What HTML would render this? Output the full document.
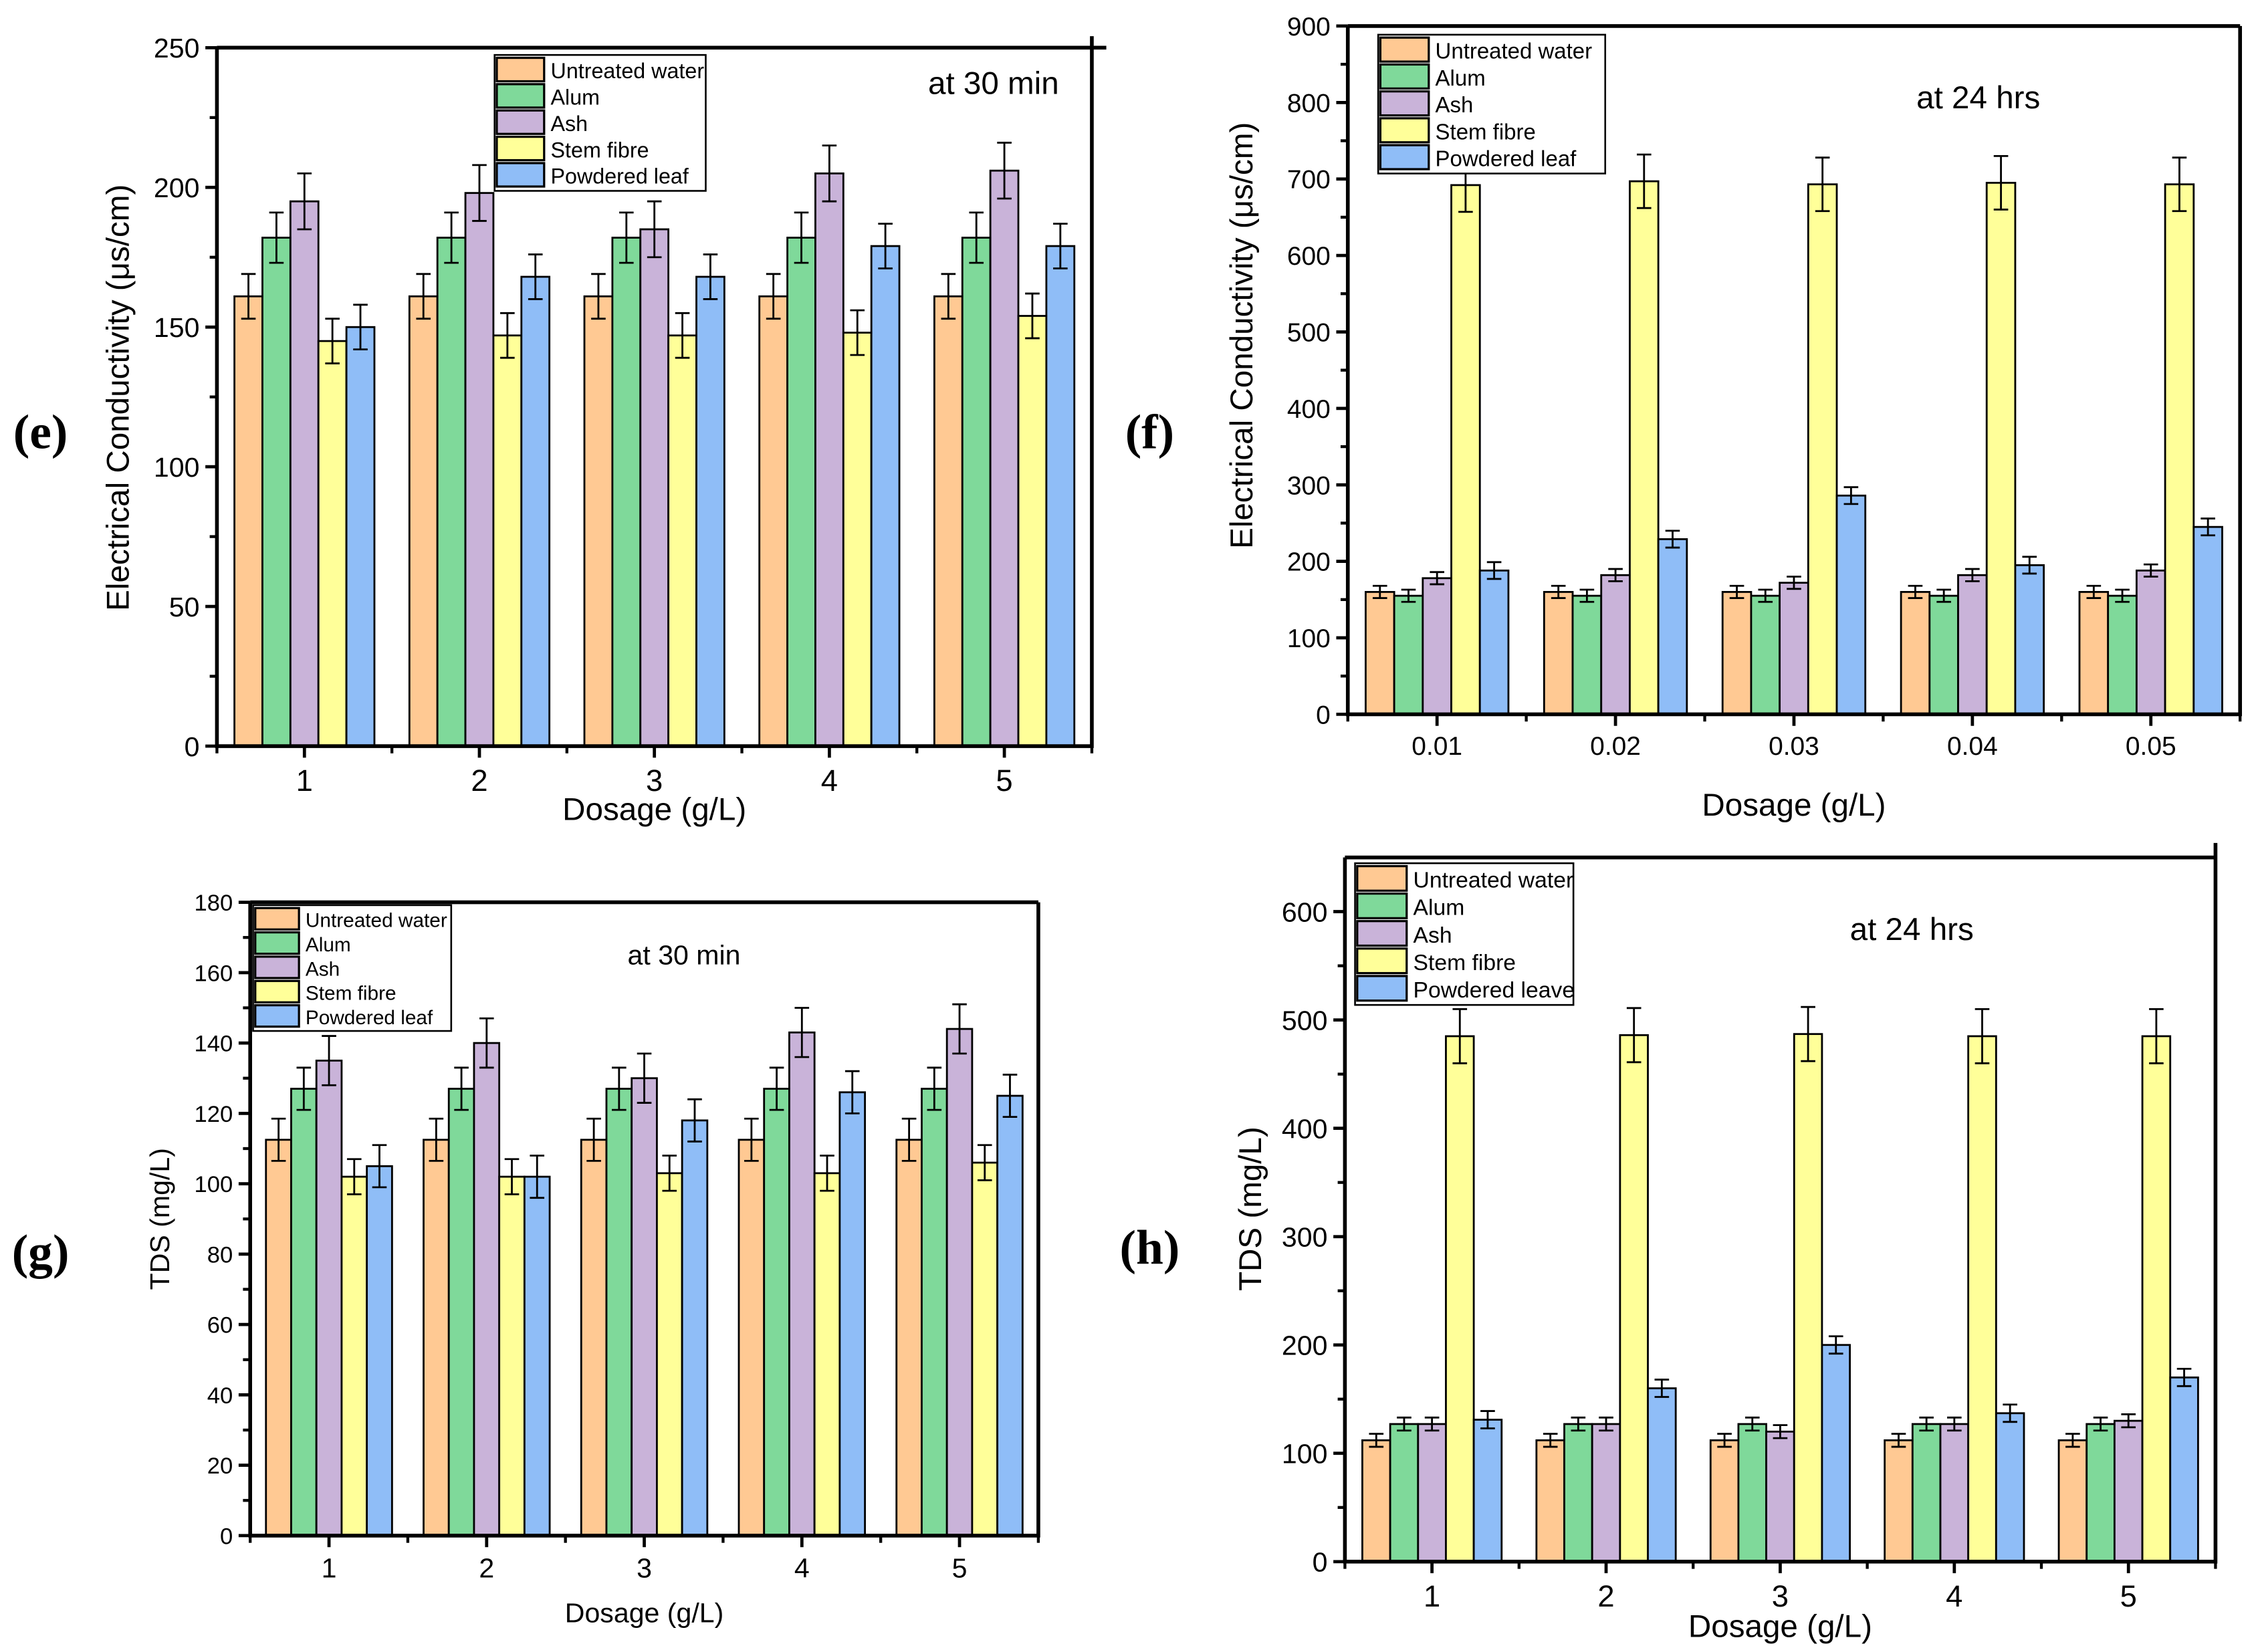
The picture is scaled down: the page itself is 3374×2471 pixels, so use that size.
<!DOCTYPE html>
<html><head><meta charset="utf-8"><style>
html,body{margin:0;padding:0;background:#fff}
svg{display:block;font-family:"Liberation Sans",sans-serif}
</style></head><body>
<svg id="fig" width="3374" height="2471" viewBox="0 0 1560 1142.5" xmlns="http://www.w3.org/2000/svg">
<rect width="1560" height="1142.5" fill="#fff"/>
</svg>
<script>
// Panel e: EC at 30 min
const eCats = ['1','2','3','4','5'];
const eUntreated = [161,161,161,161,161];
const eAlum = [182,182,182,182,182];
const eAsh = [195,198,185,205,206];
const eStem = [145,147,147,148,154];
const eLeaf = [150,168,168,179,179];
const eErr = [8,9,10,8,8];
const eTicks = [0,50,100,150,200,250];
// Panel f: EC at 24 hrs
const fCats = ['0.01','0.02','0.03','0.04','0.05'];
const fUntreated = [160,160,160,160,160];
const fAlum = [155,155,155,155,155];
const fAsh = [178,182,172,182,188];
const fStem = [692,697,693,695,693];
const fLeaf = [188,229,286,195,245];
const fErr = [8,8,8,35,11];
const fTicks = [0,100,200,300,400,500,600,700,800,900];
// Panel g: TDS at 30 min
const gCats = ['1','2','3','4','5'];
const gUntreated = [112.5,112.5,112.5,112.5,112.5];
const gAlum = [127,127,127,127,127];
const gAsh = [135,140,130,143,144];
const gStem = [102,102,103,103,106];
const gLeaf = [105,102,118,126,125];
const gErr = [6,6,7,5,6];
const gTicks = [0,20,40,60,80,100,120,140,160,180];
// Panel h: TDS at 24 hrs
const hCats = ['1','2','3','4','5'];
const hUntreated = [112,112,112,112,112];
const hAlum = [127,127,127,127,127];
const hAsh = [127,127,120,127,130];
const hStem = [485,486,487,485,485];
const hLeaf = [131,160,200,137,170];
const hErr = [6,6,6,25,8];
const hTicks = [0,100,200,300,400,500,600];

const colors = ['#FFC993','#7FD99A','#C9B3D9','#FFFF99','#8FBDF7'];
const seriesNames = ['untreated','alum','ash','stem-fibre','powdered-leaf'];
const NS = 'http://www.w3.org/2000/svg';
const svg = document.getElementById('fig');
function mk(tag, attrs, parent, text){
  const el = document.createElementNS(NS, tag);
  for (const k in attrs) el.setAttribute(k, attrs[k]);
  if (text !== undefined) el.textContent = text;
  (parent||svg).appendChild(el);
  return el;
}
function panel(cfg){
  const g = mk('g', {});
  
  
  const {L,T,R,B,ymax} = cfg;
  const n = cfg.cats.length;
  const xs = i => L + (i + 0.5) * (R - L) / n;
  const ys = v => B - v / ymax * (B - T);
  const gw = (R - L) / n;
  const bw = gw * 0.8 / 5;
  // bars
  cfg.series.forEach((arr, s) => {
    arr.forEach((v, i) => {
      const x0 = xs(i) - 2.5 * bw + s * bw;
      const r = mk('rect', {x:x0, y:ys(v), width:bw, height:B - ys(v), fill:colors[s], stroke:'#000', 'stroke-width':1.3}, g);
      
      
      const e = cfg.err[s];
      const cx = x0 + bw/2;
      const eb = mk('path', {d:`M${cx} ${ys(v+e)}V${ys(v-e)}M${cx-5} ${ys(v+e)}h10M${cx-5} ${ys(v-e)}h10`, stroke:'#000', 'stroke-width':1.3, fill:'none'}, g);
      
      
    });
  });
  // frame
  const fr = mk('path', {d:`M${L} ${T}V${B}H${R}V${T - (cfg.ext||0)}M${L} ${T}H${R + (cfg.extR||0)}`, stroke:'#000', 'stroke-width':2.6, fill:'none'}, g);
  
  
  // y ticks
  cfg.ticks.forEach((t, k) => {
    const y = ys(t);
    mk('line', {x1:L-8, x2:L, y1:y, y2:y, stroke:'#000', 'stroke-width':2.2}, g);
    const tl = mk('text', {x:L-12, y:y + cfg.tf*0.36, 'font-size':cfg.tf, 'text-anchor':'end'}, g, String(t));
    
    
    if (k < cfg.ticks.length - 1) {
      const ym = ys((t + cfg.ticks[k+1]) / 2);
      mk('line', {x1:L-5, x2:L, y1:ym, y2:ym, stroke:'#000', 'stroke-width':2}, g);
    }
  });
  // x ticks
  cfg.cats.forEach((c, i) => {
    mk('line', {x1:xs(i), x2:xs(i), y1:B, y2:B+8, stroke:'#000', 'stroke-width':2.2}, g);
    const tl = mk('text', {x:xs(i), y:B + 10 + cfg.xf, 'font-size':cfg.xf, 'text-anchor':'middle'}, g, c);
    
    
  });
  for (let i = 0; i <= n; i++) mk('line', {x1:L+i*gw, x2:L+i*gw, y1:B, y2:B+5, stroke:'#000', 'stroke-width':2}, g);
  // titles
  const xt = mk('text', {x:(L+R)/2, y:cfg.xtY, 'font-size':cfg.titleF, 'text-anchor':'middle'}, g, 'Dosage (g/L)');
  
  
  const yt = mk('text', {x:0, y:0, 'font-size':cfg.titleF, 'text-anchor':'middle', transform:`translate(${cfg.ytX},${cfg.ytY}) rotate(-90)`}, g, cfg.ytitle);
  
  
  const an = mk('text', {x:cfg.annX, y:cfg.annY, 'font-size':cfg.titleF, 'text-anchor':'middle'}, g, cfg.ann);
  
  
  const pl = mk('text', {x:cfg.plX, y:cfg.plY, 'font-size':34, 'font-weight':'bold', 'font-family':'Liberation Serif, serif', 'text-anchor':'middle'}, g, cfg.plabel);
  
  
  // legend
  const lg = mk('g', {}, g);
  
  
  const lx = cfg.lg[0], ly = cfg.lg[1], lw = cfg.lg[2], rh = cfg.lg[3];
  mk('rect', {x:lx, y:ly, width:lw, height:rh*5+3, fill:'#fff', stroke:'#000', 'stroke-width':1.2}, lg);
  cfg.lnames.forEach((nm, s) => {
    const y = ly + 2 + s*rh;
    const e = mk('g', {}, lg);
    
    
    mk('rect', {x:lx+1.5, y:y, width:rh*1.8, height:rh-2, fill:colors[s], stroke:'#000', 'stroke-width':1.5}, e);
    mk('text', {x:lx + rh*1.8 + 6, y:y + rh*0.78, 'font-size':rh*0.82}, e, nm);
  });
}
const names1 = ['Untreated water','Alum','Ash','Stem fibre','Powdered leaf'];
panel({id:'e', L:150, T:33, R:755, B:516, ymax:250, cats:eCats,
  series:[eUntreated,eAlum,eAsh,eStem,eLeaf], err:eErr, ticks:eTicks, tf:19, xf:21, titleF:22,
  ext:8, extR:10, xtY:567, ytX:89, ytY:275, ytitle:'Electrical Conductivity (μs/cm)',
  ann:'at 30 min', annX:687, annY:65, plabel:'(e)', plX:28, plY:310, lg:[342,38,146,18.2], lnames:names1});
panel({id:'f', L:932, T:18, R:1549, B:494, ymax:900, cats:fCats,
  series:[fUntreated,fAlum,fAsh,fStem,fLeaf], err:fErr, ticks:fTicks, tf:18, xf:18, titleF:22,
  xtY:564, ytX:866, ytY:232, ytitle:'Electrical Conductivity (μs/cm)',
  ann:'at 24 hrs', annX:1368, annY:75, plabel:'(f)', plX:795, plY:310, lg:[953,24,157,18.6], lnames:names1});
panel({id:'g', L:173, T:624, R:718, B:1062, ymax:180, cats:gCats,
  series:[gUntreated,gAlum,gAsh,gStem,gLeaf], err:gErr, ticks:gTicks, tf:16, xf:19, titleF:19,
  xtY:1122, ytX:117, ytY:843, ytitle:'TDS (mg/L)',
  ann:'at 30 min', annX:473, annY:667, plabel:'(g)', plX:28, plY:877, lg:[175,626,137,16.8], lnames:names1});
panel({id:'h', L:930, T:593, R:1532, B:1080, ymax:650, cats:hCats,
  series:[hUntreated,hAlum,hAsh,hStem,hLeaf], err:hErr, ticks:hTicks, tf:19, xf:21, titleF:22,
  extR:0, ext:10, xtY:1132, ytX:872, ytY:836, ytitle:'TDS (mg/L)',
  ann:'at 24 hrs', annX:1322, annY:650, plabel:'(h)', plX:795, plY:874, lg:[937,597,151,19], lnames:['Untreated water','Alum','Ash','Stem fibre','Powdered leave']});
</script>
</body></html>
